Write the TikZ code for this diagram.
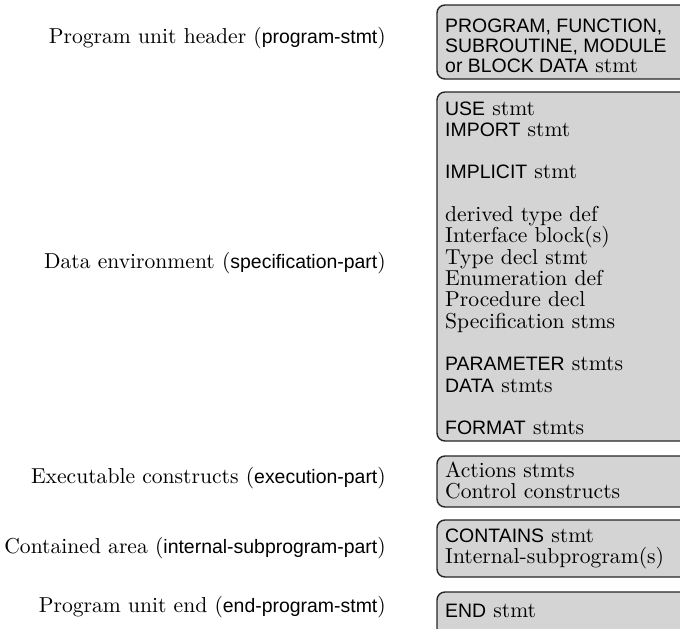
\documentclass[tikz,border=0pt]{standalone}
\usepackage{fontspec}
\setmainfont{lmroman10-regular.otf}
\setsansfont[Scale=0.9]{Liberation Sans}
% keyword in sans, the rest in roman
\newcommand\kwd[1]{\textsf{#1}}
% stack of lines, baseline at the first line
\newcommand\linestack[1]{\vtop{\lineskiplimit=-100pt\lineskip=0pt #1}}
\begin{document}
\begin{tikzpicture}[x=1pt,y=-1pt,
  partbox/.style={draw=black!85, line width=1.4pt, fill=black!17, rounded corners=8pt},
  boxtext/.style={anchor=base west, inner sep=0pt, font=\fontsize{21.6}{21.33}\selectfont},
  parttext/.style={anchor=base east, inner sep=0pt, font=\fontsize{21.6}{21.6}\selectfont}]
\useasboundingbox (0,0) rectangle (680,629);
\clip (0,0) rectangle (680,629);

% the five parts of a program unit
\draw[partbox] (437,5)   rectangle (720,79);
\draw[partbox] (437,92)  rectangle (720,441);
\draw[partbox] (437,456) rectangle (720,507);
\draw[partbox] (437,520) rectangle (720,577);
\draw[partbox] (437,592) rectangle (720,660);

% contents of each part
\node[boxtext] (hdr) at (445,32) {\linestack{\baselineskip=20pt
  \hbox{\kwd{PROGRAM, FUNCTION,}}
  \hbox{\kwd{SUBROUTINE, MODULE}}
  \hbox{\kwd{or BLOCK DATA} stmt}}};
\node[boxtext] (spec) at (445,115) {\linestack{
  \hbox{\kwd{USE} stmt}
  \hbox{\kwd{IMPORT} stmt}
  \hbox{}
  \hbox{\kwd{IMPLICIT} stmt}
  \hbox{}
  \hbox{derived type def}
  \hbox{Interface block(s)}
  \hbox{Type decl stmt}
  \hbox{Enumeration def}
  \hbox{Procedure decl}
  \hbox{Specification stms}
  \hbox{}
  \hbox{\kwd{PARAMETER} stmts}
  \hbox{\kwd{DATA} stmts}
  \hbox{}
  \hbox{\kwd{FORMAT} stmts}}};
\node[boxtext] (exec) at (445,477) {\linestack{
  \hbox{Actions stmts}
  \hbox{Control constructs}}};
\node[boxtext] (cont) at (445,542) {\linestack{
  \hbox{\kwd{CONTAINS} stmt}
  \hbox{Internal-subprogram(s)}}};
\node[boxtext] (fin) at (445,617) {\kwd{END} stmt};

% names of the parts
\node[parttext] (lhdr)  at (386,43)  {Program unit header (\kwd{program-stmt})};
\node[parttext] (lspec) at (386,268) {Data environment (\kwd{specification-part})};
\node[parttext] (lexec) at (386,483) {Executable constructs (\kwd{execution-part})};
\node[parttext] (lcont) at (386,553) {Contained area (\kwd{internal-subprogram-part})};
\node[parttext] (lfin)  at (386,612) {Program unit end (\kwd{end-program-stmt})};
\end{tikzpicture}
\end{document}
